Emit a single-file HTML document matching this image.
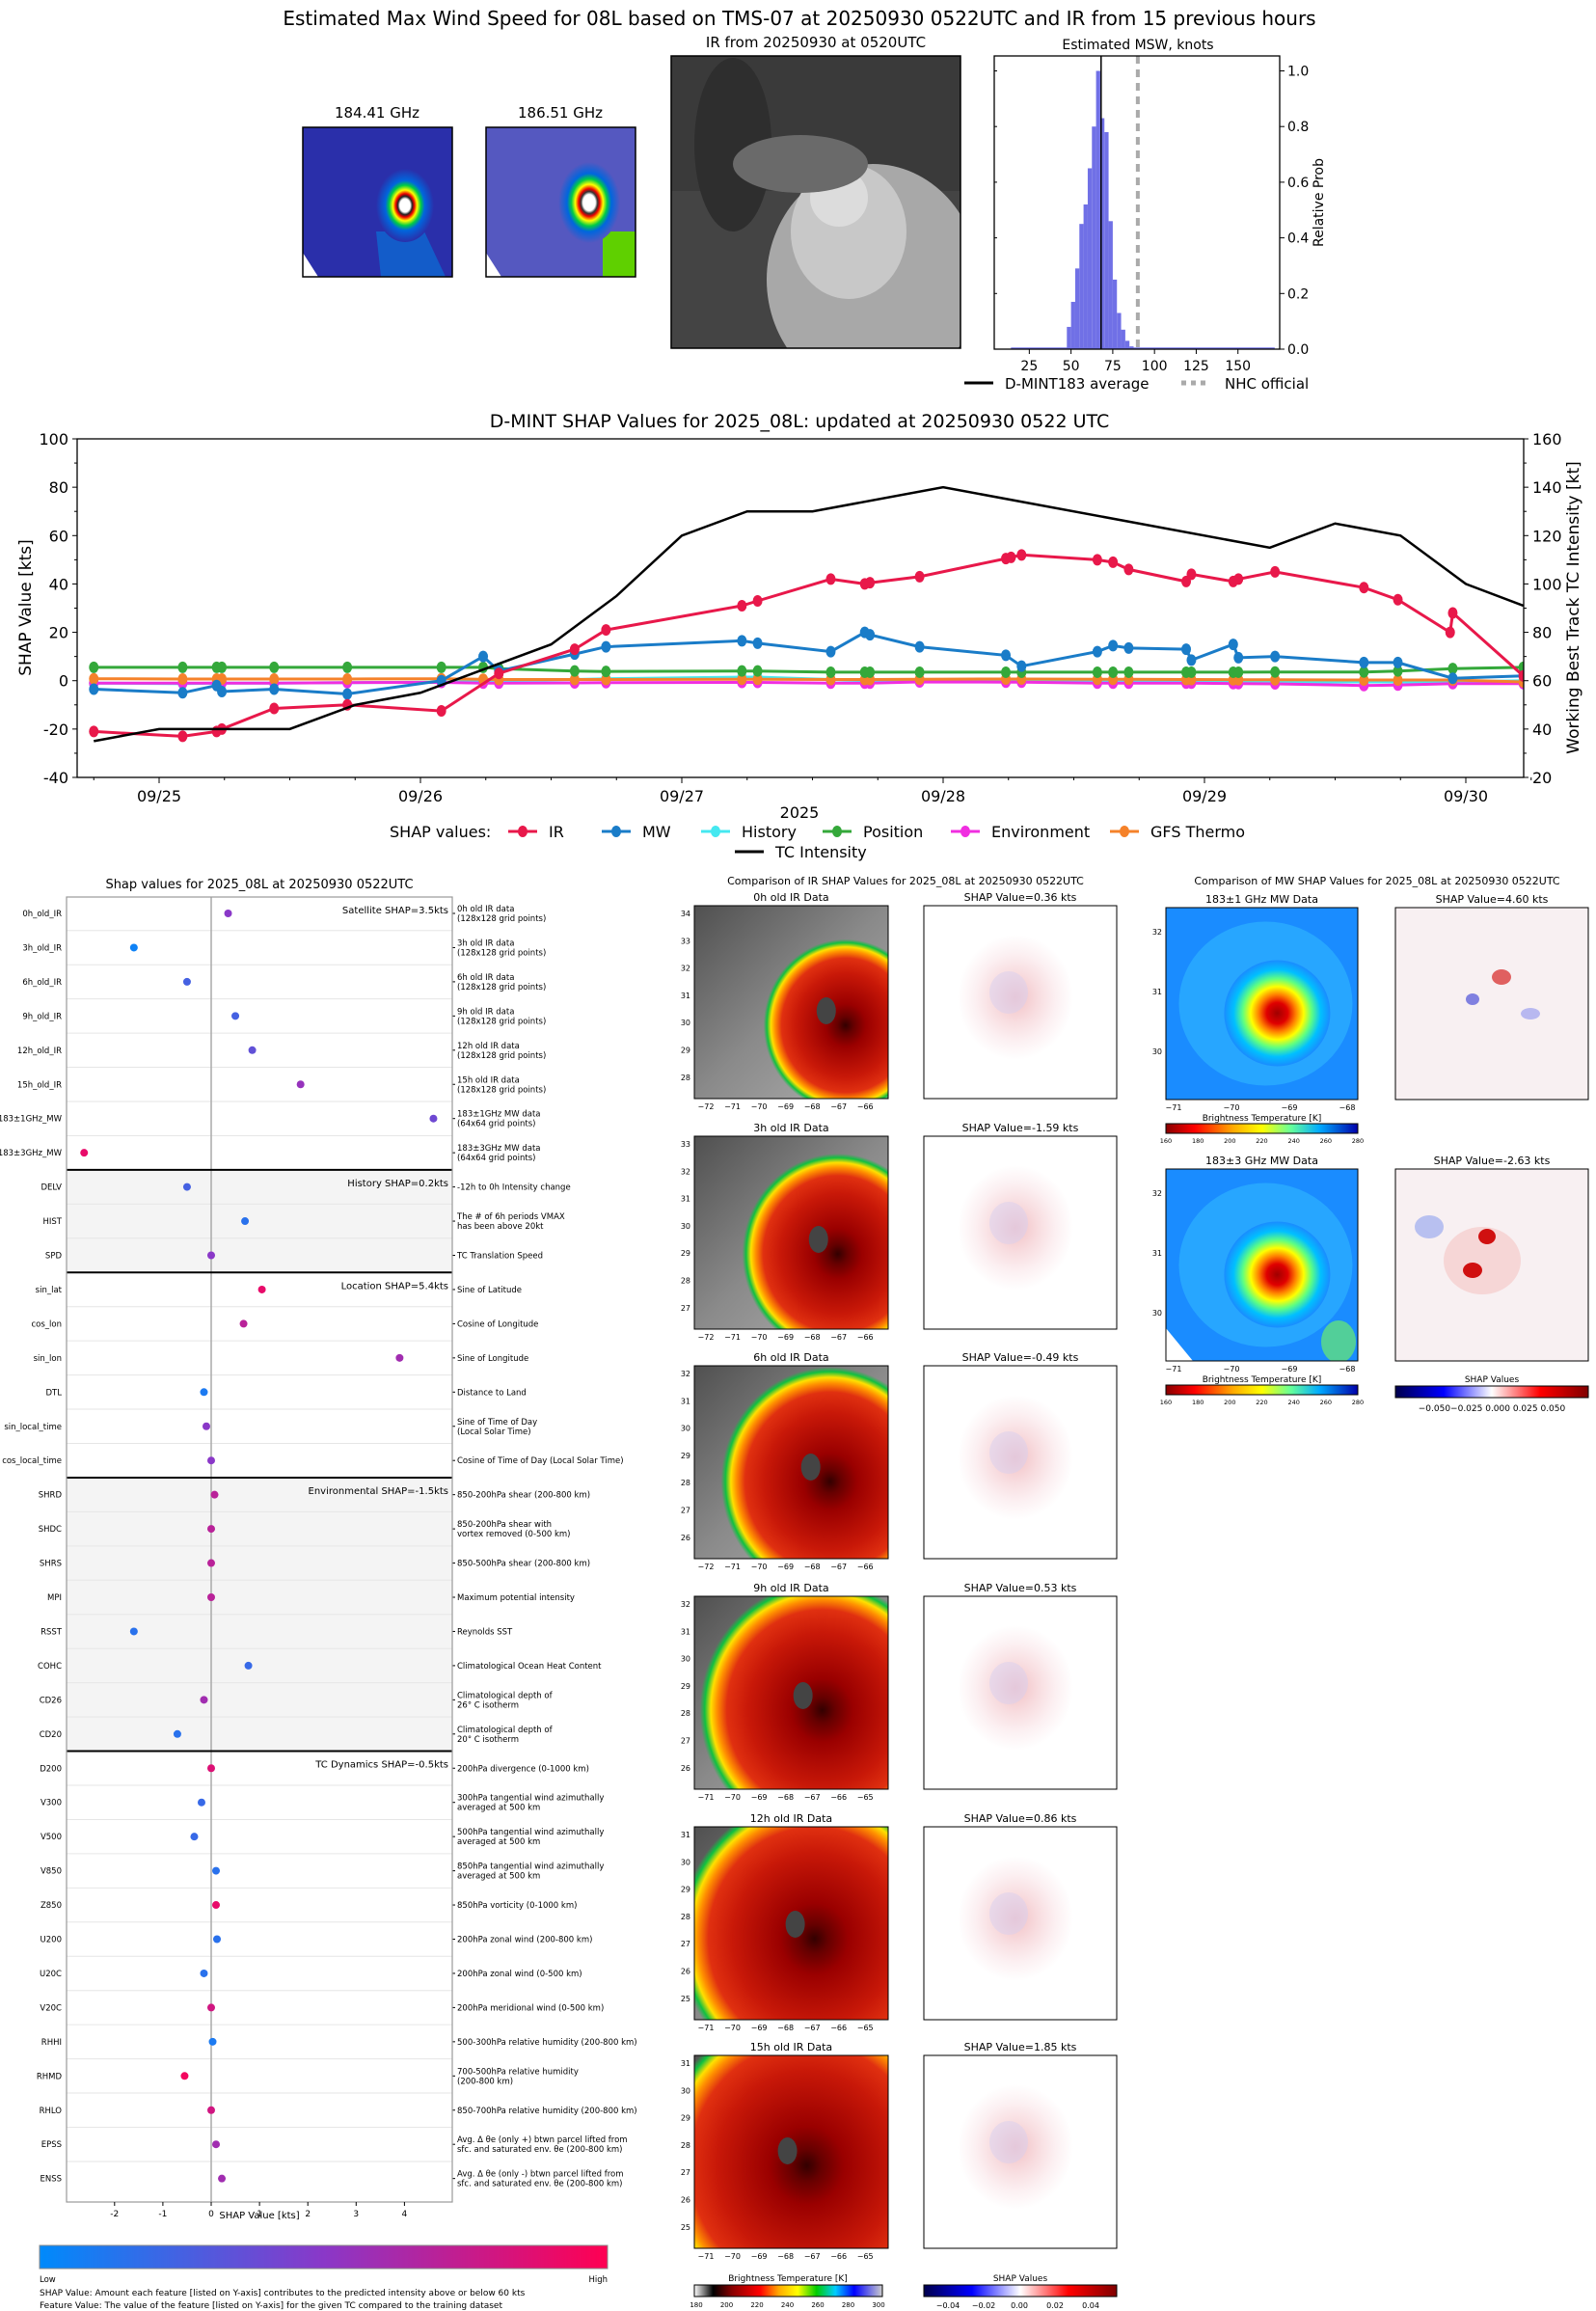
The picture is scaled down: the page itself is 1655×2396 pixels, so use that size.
<!DOCTYPE html>
<html><head><meta charset="utf-8">
<style>
html,body{margin:0;padding:0;background:#fff;}
svg{display:block;font-family:"DejaVu Sans","Liberation Sans",sans-serif;}
</style></head>
<body>
<svg id="root" width="1655" height="2396" viewBox="0 0 1655 2396" xmlns="http://www.w3.org/2000/svg">
<defs>
  <radialGradient id="mwg1" cx="0.5" cy="0.5" r="0.5">
    <stop offset="0" stop-color="#fff"/><stop offset="0.18" stop-color="#fff"/><stop offset="0.25" stop-color="#222"/><stop offset="0.32" stop-color="#e00"/><stop offset="0.42" stop-color="#ff0"/><stop offset="0.55" stop-color="#0c4"/><stop offset="0.68" stop-color="#06d"/><stop offset="1" stop-color="#2a2faa"/>
  </radialGradient>
  <radialGradient id="mwg2" cx="0.5" cy="0.5" r="0.5">
    <stop offset="0" stop-color="#fff"/><stop offset="0.2" stop-color="#fff"/><stop offset="0.27" stop-color="#333"/><stop offset="0.34" stop-color="#e00"/><stop offset="0.45" stop-color="#ff0"/><stop offset="0.58" stop-color="#0c4"/><stop offset="0.72" stop-color="#06d"/><stop offset="1" stop-color="#5558c0"/>
  </radialGradient>
  <radialGradient id="irg" cx="0.5" cy="0.5" r="0.5">
    <stop offset="0" stop-color="#300"/><stop offset="0.1" stop-color="#600"/><stop offset="0.25" stop-color="#9a0000"/><stop offset="0.6" stop-color="#c81808"/><stop offset="0.78" stop-color="#e03010"/><stop offset="0.86" stop-color="#ff9000"/><stop offset="0.91" stop-color="#ffe000"/><stop offset="0.96" stop-color="#10c040"/><stop offset="1" stop-color="#10c040" stop-opacity="0"/>
  </radialGradient>
  <radialGradient id="mwbig" cx="0.5" cy="0.5" r="0.5">
    <stop offset="0" stop-color="#a00000"/><stop offset="0.2" stop-color="#e00000"/><stop offset="0.35" stop-color="#ff8000"/><stop offset="0.5" stop-color="#ffff00"/><stop offset="0.65" stop-color="#60ff80"/><stop offset="0.82" stop-color="#00c0ff"/><stop offset="1" stop-color="#1a8cff"/>
  </radialGradient>
  <radialGradient id="shapg" cx="0.5" cy="0.5" r="0.5">
    <stop offset="0" stop-color="#f2c0c4"/><stop offset="0.4" stop-color="#f8dde0"/><stop offset="0.7" stop-color="#fcf0f2"/><stop offset="1" stop-color="#ffffff"/>
  </radialGradient>
  <linearGradient id="irgray" x1="0" y1="0" x2="1" y2="1">
    <stop offset="0" stop-color="#505050"/><stop offset="0.5" stop-color="#8a8a8a"/><stop offset="1" stop-color="#b0b0b0"/>
  </linearGradient>
  <linearGradient id="featcb" x1="0" x2="1">
    <stop offset="0" stop-color="#008afb"/><stop offset="0.5" stop-color="#8a38c8"/><stop offset="1" stop-color="#ff0052"/>
  </linearGradient>
  <linearGradient id="irbar" x1="0" x2="1">
    <stop offset="0" stop-color="#fff"/><stop offset="0.1" stop-color="#000"/><stop offset="0.2" stop-color="#800"/><stop offset="0.35" stop-color="#f00"/><stop offset="0.45" stop-color="#fa0"/><stop offset="0.55" stop-color="#ff0"/><stop offset="0.65" stop-color="#0c0"/><stop offset="0.75" stop-color="#0cf"/><stop offset="0.85" stop-color="#00f"/><stop offset="1" stop-color="#ccc"/>
  </linearGradient>
  <linearGradient id="mwbar" x1="0" x2="1">
    <stop offset="0" stop-color="#800"/><stop offset="0.15" stop-color="#f00"/><stop offset="0.35" stop-color="#fa0"/><stop offset="0.5" stop-color="#ff0"/><stop offset="0.65" stop-color="#6f9"/><stop offset="0.8" stop-color="#0af"/><stop offset="1" stop-color="#00a"/>
  </linearGradient>
  <linearGradient id="shapbar" x1="0" x2="1">
    <stop offset="0" stop-color="#00004c"/><stop offset="0.25" stop-color="#0000ff"/><stop offset="0.5" stop-color="#ffffff"/><stop offset="0.75" stop-color="#ff0000"/><stop offset="1" stop-color="#800000"/>
  </linearGradient>
  <clipPath id="irtopclip"><rect x="696" y="58" width="300" height="303"/></clipPath>
  <clipPath id="mw1clip"><rect x="314" y="132" width="155" height="155"/></clipPath>
  <clipPath id="mw2clip"><rect x="504" y="132" width="155" height="155"/></clipPath>
</defs>

<!-- TOP SECTION -->
<text x="829" y="26" font-size="20" text-anchor="middle">Estimated Max Wind Speed for 08L based on TMS-07 at 20250930 0522UTC and IR from 15 previous hours</text>

<text x="391" y="122" font-size="15" text-anchor="middle">184.41 GHz</text>
<g clip-path="url(#mw1clip)">
  <rect x="314" y="132" width="155" height="155" fill="#2a2faa"/>
  <path d="M390 240 L440 240 L462 287 L395 287 Z" fill="#0a6fd6" opacity="0.7"/>
  <ellipse cx="420" cy="213" rx="30" ry="38" fill="url(#mwg1)"/>
  <polygon points="314,262 330,287 314,287" fill="#fff"/>
</g>
<rect x="314" y="132" width="155" height="155" fill="none" stroke="#000" stroke-width="1.5"/>
<text x="581" y="122" font-size="15" text-anchor="middle">186.51 GHz</text>
<g clip-path="url(#mw2clip)">
  <rect x="504" y="132" width="155" height="155" fill="#5558c0"/>
  <path d="M625 240 L659 240 L659 287 L625 287 Z" fill="#5fd000"/>
  <ellipse cx="611" cy="210" rx="32" ry="42" fill="url(#mwg2)"/>
  <polygon points="504,262 520,287 504,287" fill="#fff"/>
</g>
<rect x="504" y="132" width="155" height="155" fill="none" stroke="#000" stroke-width="1.5"/>
<text x="846" y="49" font-size="15" text-anchor="middle">IR from 20250930 at 0520UTC</text>
<g clip-path="url(#irtopclip)">
  <rect x="696" y="58" width="300" height="303" fill="#444"/>
  <rect x="696" y="58" width="300" height="140" fill="#3a3a3a"/>
  <ellipse cx="760" cy="150" rx="40" ry="90" fill="#2e2e2e"/>
  <ellipse cx="905" cy="290" rx="110" ry="120" fill="#a8a8a8"/>
  <ellipse cx="880" cy="240" rx="60" ry="70" fill="#c8c8c8"/>
  <ellipse cx="870" cy="205" rx="30" ry="30" fill="#dcdcdc"/>
  <ellipse cx="830" cy="170" rx="70" ry="30" fill="#6a6a6a"/>
</g>
<rect x="696" y="58" width="300" height="303" fill="none" stroke="#000" stroke-width="1.5"/>
<text x="1180" y="51" font-size="14" text-anchor="middle">Estimated MSW, knots</text>
<g id="hist"></g>

<g id="ts"></g>
<g id="feat"></g>
<g id="ircmp"></g>
<g id="mwcmp"></g>
</svg>
<script>
const NS='http://www.w3.org/2000/svg';
function mk(parent,tag,attrs,txt){const e=document.createElementNS(NS,tag);for(const k in attrs)e.setAttribute(k,attrs[k]);if(txt!==undefined)e.textContent=txt;parent.appendChild(e);return e;}

// ---------- Histogram data ----------
const histBins=[47.5,50,52.5,55,57.5,60,62.5,65,67.5,70,72.5,75,77.5,80,82.5,85];
const histProb=[0.08,0.17,0.29,0.45,0.52,0.65,0.80,1.0,0.83,0.78,0.46,0.25,0.13,0.07,0.03,0.01];
const histXTicks=[25,50,75,100,125,150];
const histYTicks=[0,0.2,0.4,0.6,0.8,1.0];
const dmintAvg=68, nhcOfficial=90;
(function(){
  const g=document.getElementById('hist');
  const L=1031,R=1327,T=58,B=362;
  const X=v=>L+(v-4)/(175-4)*(R-L);
  const Y=p=>B-p*288.5;
  mk(g,'rect',{x:X(14),y:Y(0.006),width:X(172)-X(14),height:B-Y(0.006),fill:'#7070e6'});
  histBins.forEach((b,i)=>{const r=mk(g,'rect',{x:X(b),y:Y(histProb[i]),width:X(b+2.5)-X(b),height:B-Y(histProb[i]),fill:'#7070e6'});
    
    });
  const l1=mk(g,'line',{x1:X(dmintAvg),x2:X(dmintAvg),y1:T,y2:B,stroke:'#000','stroke-width':1.5});
  
  
  const l2=mk(g,'line',{x1:X(nhcOfficial),x2:X(nhcOfficial),y1:T,y2:B,stroke:'#aaa','stroke-width':4,'stroke-dasharray':'8,6'});
  
  
  mk(g,'rect',{x:L,y:T,width:R-L,height:B-T,fill:'none',stroke:'#000','stroke-width':1.3});
  histXTicks.forEach(v=>{mk(g,'line',{x1:X(v),x2:X(v),y1:B,y2:B+5,stroke:'#000'});
    const t=mk(g,'text',{x:X(v),y:B+22,'font-size':14,'text-anchor':'middle'},String(v));
    
    });
  histYTicks.forEach(v=>{mk(g,'line',{x1:R,x2:R+5,y1:Y(v),y2:Y(v),stroke:'#000'});
    mk(g,'line',{x1:L,x2:L+3,y1:Y(v),y2:Y(v),stroke:'#000'});
    const t=mk(g,'text',{x:R+8,y:Y(v)+5,'font-size':14},v.toFixed(1));
    
    });
  const yl=mk(g,'text',{transform:'translate(1372,210) rotate(-90)','font-size':14,'text-anchor':'middle'},'Relative Prob');
  
  
  const lg=mk(g,'g',{});
  
  
  mk(lg,'line',{x1:1000,x2:1030,y1:397,y2:397,stroke:'#000','stroke-width':3});
  mk(lg,'text',{x:1042,y:403,'font-size':15},'D-MINT183 average');
  mk(lg,'line',{x1:1225,x2:1255,y1:397,y2:397,stroke:'#aaa','stroke-width':5,'stroke-dasharray':'5,5'});
  mk(lg,'text',{x:1270,y:403,'font-size':15},'NHC official');
})();

// ---------- Time series data (t = days after 09/25 00Z) ----------
const irT=[-0.25,0.09,0.22,0.24,0.44,0.72,1.08,1.30,1.59,1.71,2.23,2.29,2.57,2.70,2.72,2.91,3.24,3.26,3.30,3.59,3.65,3.71,3.93,3.95,4.11,4.13,4.27,4.61,4.74,4.94,4.95,5.22];
const irV=[-21,-23,-21,-20,-11.5,-10,-12.5,3,13,21,31,33,42,40,40.5,43,50.5,51,52,50,49,46,41,44,41,42,45,38.5,33.5,20,28,2];
const mwT=[-0.25,0.09,0.22,0.24,0.44,0.72,1.08,1.24,1.30,1.59,1.71,2.23,2.29,2.57,2.70,2.72,2.91,3.24,3.30,3.59,3.65,3.71,3.93,3.95,4.11,4.13,4.27,4.61,4.74,4.95,5.22];
const mwV=[-3.5,-5,-2,-4.5,-3.5,-5.5,0,10,4,11,14,16.5,15.5,12,20,19,14,10.5,6,12,14.5,13.5,13,8.5,15,9.5,10,7.5,7.5,1,2];
const posV=[5.5,5.5,5.5,5.5,5.5,5.5,5.5,5.5,5,4,3.8,4,4,3.5,3.5,3.5,3.5,3.5,3.5,3.5,3.5,3.5,3.5,3.5,3.5,3.5,3.6,3.6,4,5,5.5];
const histV=[-1,-1.2,-1,-1,-1,-0.8,-0.6,-0.3,0,0.5,0.8,1.5,1.5,0.5,0,0,0,0,0,-0.5,-0.5,-0.5,-0.5,-0.5,-0.5,-0.5,-0.5,-0.5,-0.5,-0.5,0];
const envV=[-1,-1,-1,-1,-1,-0.8,-0.7,-1,-1,-0.9,-0.8,-0.7,-0.7,-1,-1,-1,-0.5,-0.6,-0.6,-1,-1,-1,-1,-1,-1.2,-1.2,-1.3,-2,-1.8,-1.2,-1.2];
const gfsV=[0.8,0.7,0.7,0.7,0.7,0.7,0.8,0.6,0.5,0.5,0.5,0.6,0.6,0.5,0.5,0.5,0.6,0.7,0.7,0.6,0.6,0.6,0.5,0.5,0.4,0.4,0.4,0.3,0.3,0.3,-0.5];
const tcT=[-0.25,0,0.5,0.75,1.0,1.5,1.75,2.0,2.25,2.5,3.0,4.25,4.5,4.75,5.0,5.22];
const tcV=[35,40,40,50,55,75,95,120,130,130,140,115,125,120,100,91];
const dateLabels=['09/25','09/26','09/27','09/28','09/29','09/30'];
const leftTicks=[-40,-20,0,20,40,60,80,100];
const rightTicks=[20,40,60,80,100,120,140,160];
(function(){
  const g=document.getElementById('ts');
  const L=80,R=1580,T=455,B=806;
  const X=t=>165+t*271;
  const Y=v=>T+(100-v)*(B-T)/140;
  const Y2=k=>T+(160-k)*(B-T)/140;
  const tt=mk(g,'text',{x:829,y:443,'font-size':19,'text-anchor':'middle'},'D-MINT SHAP Values for 2025_08L: updated at 20250930 0522 UTC');
  
  
  const clip=mk(g,'clipPath',{id:'tsclip'});mk(clip,'rect',{x:L,y:T,width:R-L,height:B-T});
  const plot=mk(g,'g',{'clip-path':'url(#tsclip)'});
  function series(name,T_,V,color,yf){
    const pts=T_.map((t,i)=>X(t).toFixed(1)+','+yf(V[i]).toFixed(1)).join(' ');
    const pl=mk(plot,'polyline',{points:pts,fill:'none',stroke:color,'stroke-width':3});
    
    
    T_.forEach((t,i)=>{const c=mk(plot,'ellipse',{cx:X(t),cy:yf(V[i]),rx:5,ry:6,fill:color});
      
      });
  }
  series('history',mwT,histV,'#45e8f0',Y);
  series('environment',mwT,envV,'#f02ee0',Y);
  series('gfs-thermo',mwT,gfsV,'#f5822a',Y);
  series('position',mwT,posV,'#34a83a',Y);
  series('mw',mwT,mwV,'#1a7cc8',Y);
  series('ir',irT,irV,'#e8184a',Y);
  const tc=mk(plot,'polyline',{points:tcT.map((t,i)=>X(t)+','+Y2(tcV[i])).join(' '),fill:'none',stroke:'#000','stroke-width':2.5});
  
  
  mk(g,'rect',{x:L,y:T,width:R-L,height:B-T,fill:'none',stroke:'#000','stroke-width':1.3});
  leftTicks.forEach(v=>{mk(g,'line',{x1:L-5,x2:L,y1:Y(v),y2:Y(v),stroke:'#000'});
    const t=mk(g,'text',{x:L-9,y:Y(v)+6,'font-size':16,'text-anchor':'end'},String(v));
    
    });
  for(let v=-30;v<100;v+=20){mk(g,'line',{x1:L-3,x2:L,y1:Y(v),y2:Y(v),stroke:'#000'});}
  rightTicks.forEach(k=>{mk(g,'line',{x1:R,x2:R+5,y1:Y2(k),y2:Y2(k),stroke:'#000'});
    const t=mk(g,'text',{x:R+9,y:Y2(k)+6,'font-size':16},String(k));
    
    });
  for(let k=30;k<160;k+=20){mk(g,'line',{x1:R,x2:R+3,y1:Y2(k),y2:Y2(k),stroke:'#000'});}
  dateLabels.forEach((d,i)=>{mk(g,'line',{x1:X(i),x2:X(i),y1:B,y2:B+6,stroke:'#000'});
    const t=mk(g,'text',{x:X(i),y:B+25,'font-size':16,'text-anchor':'middle'},d);
    
    });
  for(let q=-0.25;q<5.3;q+=0.25){mk(g,'line',{x1:X(q),x2:X(q),y1:B,y2:B+3,stroke:'#000'});}
  const yr=mk(g,'text',{x:829,y:848,'font-size':16,'text-anchor':'middle'},'2025');
  
  
  const yl=mk(g,'text',{transform:'translate(32,630) rotate(-90)','font-size':17,'text-anchor':'middle'},'SHAP Value [kts]');
  
  
  const yr2=mk(g,'text',{transform:'translate(1637,630) rotate(-90)','font-size':17,'text-anchor':'middle'},'Working Best Track TC Intensity [kt]');
  
  
  const lg=mk(g,'g',{});
  
  
  mk(lg,'text',{x:404,y:868,'font-size':16},'SHAP values:');
  const items=[['IR','#e8184a',527],['MW','#1a7cc8',624],['History','#45e8f0',727],['Position','#34a83a',853],['Environment','#f02ee0',986],['GFS Thermo','#f5822a',1151]];
  items.forEach(it=>{const e=mk(lg,'g',{});
    
    
    mk(e,'line',{x1:it[2],x2:it[2]+30,y1:862,y2:862,stroke:it[1],'stroke-width':3});
    mk(e,'ellipse',{cx:it[2]+15,cy:862,rx:5,ry:6,fill:it[1]});
    mk(e,'text',{x:it[2]+42,y:868,'font-size':16},it[0]);});
  mk(lg,'line',{x1:762,x2:792,y1:883,y2:883,stroke:'#000','stroke-width':3});
  mk(lg,'text',{x:804,y:889,'font-size':16},'TC Intensity');
})();

// ---------- Feature SHAP data ----------
const featNames=['0h_old_IR','3h_old_IR','6h_old_IR','9h_old_IR','12h_old_IR','15h_old_IR','183±1GHz_MW','183±3GHz_MW','DELV','HIST','SPD','sin_lat','cos_lon','sin_lon','DTL','sin_local_time','cos_local_time','SHRD','SHDC','SHRS','MPI','RSST','COHC','CD26','CD20','D200','V300','V500','V850','Z850','U200','U20C','V20C','RHHI','RHMD','RHLO','EPSS','ENSS'];
const featShap=[0.35,-1.6,-0.5,0.5,0.85,1.85,4.6,-2.63,-0.5,0.7,0.0,1.05,0.67,3.9,-0.15,-0.1,0.0,0.07,0.0,0.0,0.0,-1.6,0.77,-0.15,-0.7,0.0,-0.2,-0.35,0.1,0.1,0.12,-0.15,0.0,0.03,-0.55,0.0,0.1,0.22];
const featLevel=[0.5,0.05,0.25,0.25,0.35,0.55,0.4,0.9,0.25,0.15,0.5,0.9,0.7,0.6,0.1,0.5,0.5,0.7,0.7,0.7,0.7,0.15,0.2,0.6,0.15,0.85,0.2,0.2,0.15,0.9,0.15,0.15,0.8,0.1,0.95,0.8,0.6,0.6];
const featDesc=[['0h old IR data','(128x128 grid points)'],['3h old IR data','(128x128 grid points)'],['6h old IR data','(128x128 grid points)'],['9h old IR data','(128x128 grid points)'],['12h old IR data','(128x128 grid points)'],['15h old IR data','(128x128 grid points)'],['183±1GHz MW data','(64x64 grid points)'],['183±3GHz MW data','(64x64 grid points)'],['-12h to 0h Intensity change'],['The # of 6h periods VMAX','has been above 20kt'],['TC Translation Speed'],['Sine of Latitude'],['Cosine of Longitude'],['Sine of Longitude'],['Distance to Land'],['Sine of Time of Day','(Local Solar Time)'],['Cosine of Time of Day (Local Solar Time)'],['850-200hPa shear (200-800 km)'],['850-200hPa shear with','vortex removed (0-500 km)'],['850-500hPa shear (200-800 km)'],['Maximum potential intensity'],['Reynolds SST'],['Climatological Ocean Heat Content'],['Climatological depth of','26° C isotherm'],['Climatological depth of','20° C isotherm'],['200hPa divergence (0-1000 km)'],['300hPa tangential wind azimuthally','averaged at 500 km'],['500hPa tangential wind azimuthally','averaged at 500 km'],['850hPa tangential wind azimuthally','averaged at 500 km'],['850hPa vorticity (0-1000 km)'],['200hPa zonal wind (200-800 km)'],['200hPa zonal wind (0-500 km)'],['200hPa meridional wind (0-500 km)'],['500-300hPa relative humidity (200-800 km)'],['700-500hPa relative humidity','(200-800 km)'],['850-700hPa relative humidity (200-800 km)'],['Avg. Δ θe (only +) btwn parcel lifted from','sfc. and saturated env. θe (200-800 km)'],['Avg. Δ θe (only -) btwn parcel lifted from','sfc. and saturated env. θe (200-800 km)']];
const groupStart=[0,8,11,17,25];
const groupLabels=['Satellite SHAP=3.5kts','History SHAP=0.2kts','Location SHAP=5.4kts','Environmental SHAP=-1.5kts','TC Dynamics SHAP=-0.5kts'];
const groupShaded=[false,true,false,true,false];
const featXTicks=[-2,-1,0,1,2,3,4];
(function(){
  const g=document.getElementById('feat');
  const L=69,R=469,T=930,B=2283;
  const X=v=>219+v*50.1;
  const RY=i=>947+i*35.45;
  const t=mk(g,'text',{x:269,y:921,'font-size':13,'text-anchor':'middle'},'Shap values for 2025_08L at 20250930 0522UTC');
  
  
  const bounds=groupStart.map(s=>s===0?T:RY(s)-17.7).concat([B]);
  groupStart.forEach((s,k)=>{
    if(groupShaded[k])mk(g,'rect',{x:L,y:bounds[k],width:R-L,height:bounds[k+1]-bounds[k],fill:'#f4f4f4'});
    const gl=mk(g,'text',{x:R-4,y:bounds[k]+17,'font-size':10,'text-anchor':'end'},groupLabels[k]);
    
    
  });
  featNames.forEach((n,i)=>{if(i>0)mk(g,'line',{x1:L,x2:R,y1:RY(i)-17.7,y2:RY(i)-17.7,stroke:'#e6e6e6'});});
  mk(g,'line',{x1:X(0),x2:X(0),y1:T,y2:B,stroke:'#aaa','stroke-width':1.5});
  groupStart.slice(1).forEach((s,k)=>{mk(g,'line',{x1:L,x2:R,y1:bounds[k+1],y2:bounds[k+1],stroke:'#000','stroke-width':2});});
  function col(l){const a=[0,138,251],b=[138,56,200],c=[255,0,82];let p,q,f;if(l<0.5){p=a;q=b;f=l*2}else{p=b;q=c;f=(l-0.5)*2}return 'rgb('+p.map((v,j)=>Math.round(v+(q[j]-v)*f)).join(',')+')';}
  featNames.forEach((n,i)=>{
    const y=RY(i);
    const lab=mk(g,'text',{x:L-5,y:y+3,'font-size':8.5,'text-anchor':'end'},n);
    
    
    mk(g,'line',{x1:R,x2:R+3,y1:y,y2:y,stroke:'#000'});
    const d=featDesc[i];
    d.forEach((s,j)=>{const dt=mk(g,'text',{x:R+5,y:y+(d.length===1?3:-2+j*10),'font-size':8.5},s);
      
      });
    const c=mk(g,'circle',{cx:X(featShap[i]),cy:y,r:4,fill:col(featLevel[i])});
    
    
  });
  mk(g,'rect',{x:L,y:T,width:R-L,height:B-T,fill:'none',stroke:'#999','stroke-width':1.2});
  featXTicks.forEach(v=>{mk(g,'line',{x1:X(v),x2:X(v),y1:B,y2:B+4,stroke:'#000'});
    const tk=mk(g,'text',{x:X(v),y:B+15,'font-size':9,'text-anchor':'middle'},String(v));
    
    });
  const xl=mk(g,'text',{x:269,y:2300,'font-size':10,'text-anchor':'middle'},'SHAP Value [kts]');
  
  
  const cb=mk(g,'rect',{x:41,y:2328,width:589,height:24,fill:'url(#featcb)',stroke:'#888'});
  
  
  mk(g,'text',{x:41,y:2366,'font-size':8.5},'Low');
  mk(g,'text',{x:630,y:2366,'font-size':8.5,'text-anchor':'end'},'High');
  const n1=mk(g,'text',{x:41,y:2380,'font-size':9},'SHAP Value: Amount each feature [listed on Y-axis] contributes to the predicted intensity above or below 60 kts');
  
  
  const n2=mk(g,'text',{x:41,y:2393,'font-size':9},'Feature Value: The value of the feature [listed on Y-axis] for the given TC compared to the training dataset');
  
  
})();

// ---------- IR comparison ----------
const irTitles=['0h old IR Data','3h old IR Data','6h old IR Data','9h old IR Data','12h old IR Data','15h old IR Data'];
const irShapVals=[0.36,-1.59,-0.49,0.53,0.86,1.85];
const irLatTop=[34,33,32,32,31,31];
const irLonStart=[-72,-72,-72,-71,-71,-71];
(function(){
  const g=document.getElementById('ircmp');
  const ct=mk(g,'text',{x:939,y:917,'font-size':11,'text-anchor':'middle'},'Comparison of IR SHAP Values for 2025_08L at 20250930 0522UTC');
  
  
  const tops=[939,1178,1416,1655,1894,2131];
  tops.forEach((y,i)=>{
    const x=720,w=201,h=200;
    const cp=mk(g,'clipPath',{id:'irc'+i});mk(cp,'rect',{x:x,y:y,width:w,height:h});
    mk(g,'text',{x:x+w/2,y:y-5,'font-size':11,'text-anchor':'middle'},irTitles[i]);
    const p=mk(g,'g',{'clip-path':'url(#irc'+i+')'});
    
    
    mk(p,'rect',{x:x,y:y,width:w,height:h,fill:'url(#irgray)'});
    const r=85+i*14;
    const cx=x+w*(0.78-i*0.04), cy=y+h*(0.62-i*0.01);
    mk(p,'ellipse',{cx:cx,cy:cy,rx:r,ry:r*1.05,fill:'url(#irg)'});
    mk(p,'ellipse',{cx:cx-20,cy:cy-15,rx:10,ry:14,fill:'#444'});
    mk(g,'rect',{x:x,y:y,width:w,height:h,fill:'none',stroke:'#000'});
    for(let k=0;k<7;k++){const lat=irLatTop[i]-k;const yy=y+8+k*(h-16)/6.5;
      mk(g,'text',{x:x-4,y:yy+3,'font-size':8,'text-anchor':'end'},String(lat));}
    for(let k=0;k<7;k++){const xx=x+12+k*w/7.3;
      mk(g,'text',{x:xx,y:y+h+11,'font-size':8,'text-anchor':'middle'},String(irLonStart[i]+k).replace('-','−'));}
    const sx=958;
    const s=mk(g,'g',{});
    
    
    mk(s,'text',{x:sx+100,y:y-5,'font-size':11,'text-anchor':'middle'},'SHAP Value='+irShapVals[i].toFixed(2)+' kts');
    mk(s,'rect',{x:sx,y:y,width:200,height:200,fill:'#fff'});
    mk(s,'ellipse',{cx:sx+95,cy:y+95,rx:60,ry:65,fill:'url(#shapg)'});
    mk(s,'ellipse',{cx:sx+88,cy:y+90,rx:20,ry:22,fill:'#d8d0f0',opacity:0.5});
    mk(s,'rect',{x:sx,y:y,width:200,height:200,fill:'none',stroke:'#000'});
  });
  const cb1=mk(g,'rect',{x:720,y:2369,width:195,height:12,fill:'url(#irbar)',stroke:'#000'});
  
  
  mk(g,'text',{x:817,y:2365,'font-size':9,'text-anchor':'middle'},'Brightness Temperature [K]');
  ['180','200','220','240','260','280','300'].forEach((v,k)=>mk(g,'text',{x:722+k*31.5,y:2392,'font-size':7,'text-anchor':'middle'},v));
  const cb2=mk(g,'rect',{x:958,y:2369,width:200,height:12,fill:'url(#shapbar)',stroke:'#000'});
  
  
  mk(g,'text',{x:1058,y:2365,'font-size':9,'text-anchor':'middle'},'SHAP Values');
  ['−0.04','−0.02','0.00','0.02','0.04'].forEach((v,k)=>mk(g,'text',{x:983+k*37,y:2393,'font-size':8,'text-anchor':'middle'},v));
})();

// ---------- MW comparison ----------
const mwTitles=['183±1 GHz MW Data','183±3 GHz MW Data'];
const mwShapVals=[4.60,-2.63];
(function(){
  const g=document.getElementById('mwcmp');
  const ct=mk(g,'text',{x:1428,y:917,'font-size':11,'text-anchor':'middle'},'Comparison of MW SHAP Values for 2025_08L at 20250930 0522UTC');
  
  
  [941,1212].forEach((y,i)=>{
    const x=1209,w=199,h=199;
    const cp=mk(g,'clipPath',{id:'mwc'+i});mk(cp,'rect',{x:x,y:y,width:w,height:h});
    mk(g,'text',{x:x+w/2,y:y-5,'font-size':11,'text-anchor':'middle'},mwTitles[i]);
    const p=mk(g,'g',{'clip-path':'url(#mwc'+i+')'});
    
    
    mk(p,'rect',{x:x,y:y,width:w,height:h,fill:'#1a8cff'});
    mk(p,'ellipse',{cx:x+w*0.52,cy:y+h*0.5,rx:90,ry:85,fill:'#30b8ff',opacity:0.6});
    mk(p,'ellipse',{cx:x+w*0.58,cy:y+h*0.55,rx:55,ry:55,fill:'url(#mwbig)'});
    if(i===1){mk(p,'polygon',{points:`${x},${y+165} ${x+28},${y+h} ${x},${y+h}`,fill:'#fff'});mk(p,'ellipse',{cx:x+w-20,cy:y+h-20,rx:18,ry:22,fill:'#60e080',opacity:0.8});}
    mk(g,'rect',{x:x,y:y,width:w,height:h,fill:'none',stroke:'#000'});
    ['32','31','30'].forEach((v,k)=>mk(g,'text',{x:x-4,y:y+28+k*62,'font-size':8,'text-anchor':'end'},v));
    ['−71','−70','−69','−68'].forEach((v,k)=>mk(g,'text',{x:x+8+k*60,y:y+h+11,'font-size':8,'text-anchor':'middle'},v));
    mk(g,'text',{x:x+w/2,y:y+h+22,'font-size':9,'text-anchor':'middle'},'Brightness Temperature [K]');
    mk(g,'rect',{x:x,y:y+h+25,width:w,height:10,fill:'url(#mwbar)',stroke:'#000'});
    ['160','180','200','220','240','260','280'].forEach((v,k)=>mk(g,'text',{x:x+k*w/6,y:y+h+45,'font-size':6.5,'text-anchor':'middle'},v));
    const sx=1447;
    const s=mk(g,'g',{});
    
    
    mk(s,'text',{x:sx+100,y:y-5,'font-size':11,'text-anchor':'middle'},'SHAP Value='+mwShapVals[i].toFixed(2)+' kts');
    mk(s,'rect',{x:sx,y:y,width:200,height:199,fill:'#f8f0f2'});
    if(i===0){mk(s,'ellipse',{cx:sx+110,cy:y+72,rx:10,ry:8,fill:'#e06060'});mk(s,'ellipse',{cx:sx+80,cy:y+95,rx:7,ry:6,fill:'#8080e0'});mk(s,'ellipse',{cx:sx+140,cy:y+110,rx:10,ry:6,fill:'#b8b8f0'});}
    else{mk(s,'ellipse',{cx:sx+90,cy:y+95,rx:40,ry:35,fill:'#f6d6d6'});mk(s,'ellipse',{cx:sx+95,cy:y+70,rx:9,ry:8,fill:'#d01010'});mk(s,'ellipse',{cx:sx+80,cy:y+105,rx:10,ry:8,fill:'#d01010'});mk(s,'ellipse',{cx:sx+35,cy:y+60,rx:15,ry:12,fill:'#b8c0f0'});}
    mk(s,'rect',{x:sx,y:y,width:200,height:199,fill:'none',stroke:'#000'});
  });
  const sb=mk(g,'rect',{x:1447,y:1437,width:200,height:12,fill:'url(#shapbar)',stroke:'#000'});
  
  
  mk(g,'text',{x:1547,y:1433,'font-size':9,'text-anchor':'middle'},'SHAP Values');
  mk(g,'text',{x:1547,y:1463,'font-size':9,'text-anchor':'middle'},'−0.050−0.025 0.000  0.025  0.050');
})();
</script>
</body></html>
